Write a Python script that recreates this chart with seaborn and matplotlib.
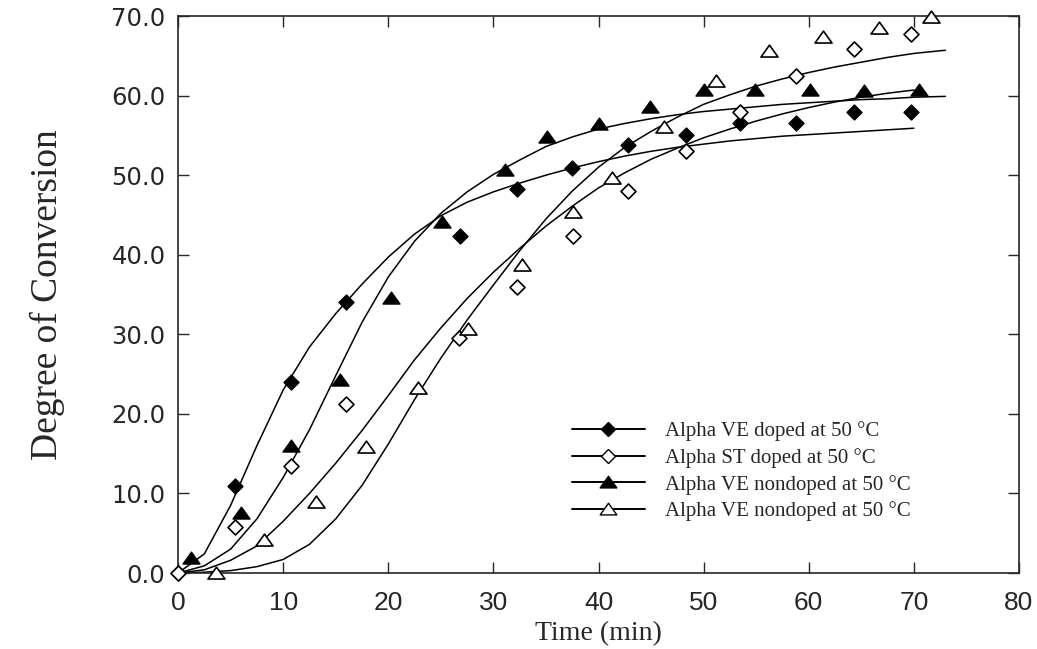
import matplotlib
matplotlib.use("Agg")
import matplotlib.pyplot as plt
from matplotlib.lines import Line2D
from matplotlib.path import Path
import seaborn as sns

# measured points (time in min, degree of conversion)
ve_doped_t = [0, 5.4, 10.7, 16.0, 26.8, 32.2, 37.5, 42.8, 48.3, 53.5, 58.8, 64.3, 69.7]
ve_doped_y = [0, 10.9, 24.0, 34.0, 42.4, 48.2, 50.9, 53.8, 55.1, 56.5, 56.5, 57.9, 57.9]

st_doped_t = [0, 5.4, 10.7, 16.0, 26.7, 32.2, 37.6, 42.8, 48.3, 53.5, 58.8, 64.3, 69.7]
st_doped_y = [0, 5.8, 13.4, 21.3, 29.5, 36.0, 42.4, 48.0, 53.0, 57.9, 62.5, 65.8, 67.7]

ve_nd_t = [1.2, 6.0, 10.7, 15.4, 20.3, 25.1, 31.1, 35.1, 40.0, 44.9, 50.0, 54.9, 60.1, 65.3, 70.5]
ve_nd_y = [1.9, 7.5, 16.0, 24.2, 34.5, 44.1, 50.6, 54.8, 56.4, 58.6, 60.7, 60.7, 60.7, 60.6, 60.7]

ve_nd2_t = [3.6, 8.2, 13.1, 17.9, 22.8, 27.6, 32.7, 37.6, 41.3, 46.2, 51.2, 56.2, 61.4, 66.7, 71.6]
ve_nd2_y = [0, 4.2, 8.9, 15.8, 23.2, 30.7, 38.7, 45.4, 49.7, 56.0, 61.8, 65.6, 67.4, 68.5, 69.9]

# fitted curves
fit_t = [0, 2.5, 5, 7.5, 10, 12.5, 15, 17.5, 20, 22.5, 25, 27.5, 30, 32.5, 35,
         37.5, 40, 42.5, 45, 47.5, 50, 52.5, 55, 57.5, 60, 62.5, 65, 67.5, 70]
fit_t_long = fit_t + [73]

fit_ve_doped = [0, 2.4, 8.5, 16.0, 23.0, 28.4, 32.6, 36.3, 39.7, 42.6, 44.9, 46.6, 47.9, 49.0, 50.0,
                50.9, 51.7, 52.4, 53.0, 53.5, 53.9, 54.3, 54.6, 54.9, 55.1, 55.3, 55.5, 55.7, 55.9]
fit_st_doped = [0, 0.4, 1.6, 3.4, 6.5, 10.0, 13.8, 17.9, 22.3, 26.8, 30.8, 34.5, 37.8, 40.8, 43.6,
                46.1, 48.4, 50.3, 52.0, 53.4, 54.7, 55.8, 56.8, 57.7, 58.5, 59.2, 59.8, 60.3, 60.7]
fit_ve_nd = [0, 0.9, 3.0, 6.8, 12.0, 18.0, 24.8, 31.5, 37.2, 41.7, 45.2, 47.9, 50.1, 51.9, 53.6,
             54.8, 55.8, 56.5, 57.1, 57.6, 58.0, 58.3, 58.6, 58.9, 59.1, 59.3, 59.5, 59.6, 59.8, 59.9]
fit_ve_nd2 = [0, 0.1, 0.3, 0.8, 1.7, 3.6, 6.8, 11.0, 16.2, 21.8, 27.0, 31.8, 36.2, 40.5, 44.5,
              48.0, 51.0, 53.5, 55.5, 57.3, 58.9, 60.1, 61.2, 62.1, 62.9, 63.6, 64.2, 64.8, 65.3, 65.7]

labels = ["Alpha VE doped at 50 °C", "Alpha ST doped at 50 °C",
          "Alpha VE nondoped at 50 °C", "Alpha VE nondoped at 50 °C"]

sns.set_style("ticks")
plt.rcParams['font.family'] = ['DejaVu Sans']

fig = plt.figure(figsize=(10.37, 6.49), dpi=100)
ax = fig.add_axes([0.1717, 0.1171, 0.8109, 0.8582])

tri = Path([(0, 0.75), (-1, -0.65), (1, -0.65), (0, 0.75)], closed=True)

# fitted lines
for t, y in [(fit_t, fit_ve_doped), (fit_t, fit_st_doped),
             (fit_t_long, fit_ve_nd), (fit_t_long, fit_ve_nd2)]:
    sns.lineplot(x=t, y=y, color='black', lw=1.1, ax=ax, sort=False)

# data points
sns.scatterplot(x=ve_doped_t, y=ve_doped_y, marker='D', s=58, color='black',
                edgecolor='black', linewidth=1, ax=ax, clip_on=False, zorder=4)
sns.scatterplot(x=st_doped_t, y=st_doped_y, marker='D', s=58, color='white',
                edgecolor='black', linewidth=1.2, ax=ax, clip_on=False, zorder=4)
sns.scatterplot(x=ve_nd_t, y=ve_nd_y, marker=tri, s=150, color='black',
                edgecolor='black', linewidth=1, ax=ax, clip_on=False, zorder=4)
sns.scatterplot(x=ve_nd2_t, y=ve_nd2_y, marker=tri, s=150, color='white',
                edgecolor='black', linewidth=1.2, ax=ax, clip_on=False, zorder=4)

ax.set_xlim(0, 80)
ax.set_ylim(0, 70)
ax.set_xticks(range(0, 81, 10))
ax.set_yticks(range(0, 71, 10))
ax.set_yticklabels([f"{v:.1f}" for v in range(0, 71, 10)])

for s in ax.spines.values():
    s.set_visible(True)
    s.set_linewidth(1.2)
ax.tick_params(direction='in', length=8, width=1.0, top=True, right=True)
ax.tick_params(axis='y', labelsize=17.5, pad=9)
ax.tick_params(axis='x', labelsize=19, pad=13)
for lab in ax.get_xticklabels():
    lab.set_family(['Liberation Sans Narrow', 'Liberation Sans'])

ax.set_xlabel("Time (min)", family='Liberation Serif', fontsize=20)
ax.set_ylabel("Degree of Conversion", family='Liberation Serif', fontsize=27)
ax.xaxis.set_label_coords(0.5, -0.086)
ax.yaxis.set_label_coords(-0.135, 0.5)

handles = [
    Line2D([], [], color='black', lw=1.4, marker='D', ms=7.5, mfc='black', mec='black'),
    Line2D([], [], color='black', lw=1.4, marker='D', ms=7.5, mfc='white', mec='black'),
    Line2D([], [], color='black', lw=1.4, marker=tri, ms=12, mfc='black', mec='black'),
    Line2D([], [], color='black', lw=1.4, marker=tri, ms=12, mfc='white', mec='black'),
]
ax.legend(handles, labels, loc='upper left', bbox_to_anchor=(0.468, 0.272),
          frameon=False, prop={'family': 'Liberation Serif', 'size': 15},
          handlelength=3.5, handletextpad=1.0, labelspacing=0.32,
          borderpad=0, borderaxespad=0)

fig.savefig("out.png", dpi=100)
